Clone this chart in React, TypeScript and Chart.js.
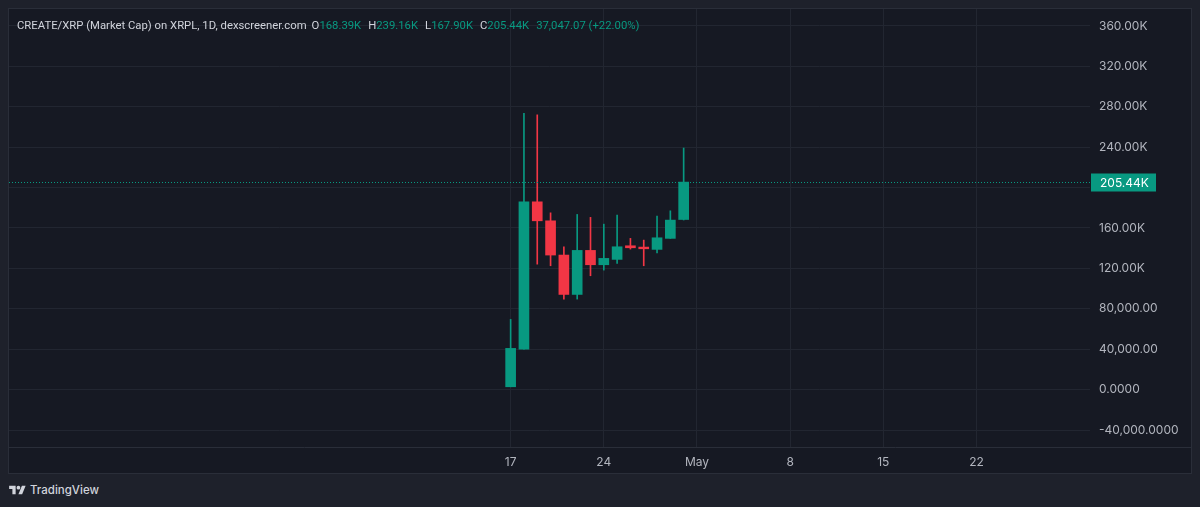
import React, { useEffect, useRef } from "react";
import { Chart, registerables } from "chart.js";

Chart.register(...registerables);

// ---- data (day numbers counted from Apr 0; May 1 = 31) ----
const candleDays = [17, 18, 19, 20, 21, 22, 23, 24, 25, 26, 27, 28, 29, 30];
const opens = [2800, 40000, 185900, 167100, 133200, 94200, 137800, 123600, 128900, 142400, 141100, 138800, 149700, 168390];
const highs = [69500, 273400, 272000, 175000, 141400, 173400, 170500, 163800, 172800, 149700, 148000, 171800, 177000, 239160];
const lows = [2800, 40000, 124200, 122600, 89600, 89600, 112700, 118300, 124900, 139100, 122600, 135400, 149700, 167900];
const closes = [40800, 185900, 167100, 133200, 94200, 137800, 123600, 129900, 141400, 140400, 139400, 150300, 167800, 205440];

const xTickDays = [17, 24, 31, 38, 45, 52];
const xTickLabels = ["17", "24", "May", "8", "15", "22"];

const yTickValues = [-40000, 0, 40000, 80000, 120000, 160000, 200000, 240000, 280000, 320000, 360000];
const yTickLabels = ["-40,000.0000", "0.0000", "40,000.00", "80,000.00", "120.00K", "160.00K", "200.00K", "240.00K", "280.00K", "320.00K", "360.00K"];

const lastPriceLabel = "205.44K";
const legendTitle = "CREATE/XRP (Market Cap) on XRPL, 1D, dexscreener.com";
const legendItems = [
  ["O", "168.39K"],
  ["H", "239.16K"],
  ["L", "167.90K"],
  ["C", "205.44K"],
];
const legendChange = "37,047.07 (+22.00%)";

const UP = "#089981";
const DOWN = "#f23645";
const FONT = "Inter, 'Noto Sans', sans-serif";
const LEGEND_FONT = "Roboto, 'Noto Sans', sans-serif";

export default function App() {
  const canvasRef = useRef<HTMLCanvasElement | null>(null);

  useEffect(() => {
    const canvas = canvasRef.current;
    if (!canvas) return;
    const colors = opens.map((o, i) => (closes[i] >= o ? UP : DOWN));
    const lastClose = closes[closes.length - 1];

    const overlay = {
      id: "overlay",
      afterDraw(chart: any) {
        const ctx = chart.ctx as CanvasRenderingContext2D;
        const area = chart.chartArea;
        const yScale = chart.scales.y;
        ctx.save();
        // time axis separator
        ctx.strokeStyle = "#2a2e39";
        ctx.lineWidth = 1;
        ctx.beginPath();
        ctx.moveTo(0, Math.round(area.bottom) + 0.5);
        ctx.lineTo(chart.width, Math.round(area.bottom) + 0.5);
        ctx.stroke();
        // last price dotted line
        const py = Math.round(yScale.getPixelForValue(lastClose)) + 0.5;
        ctx.strokeStyle = UP;
        ctx.setLineDash([1, 2]);
        ctx.beginPath();
        ctx.moveTo(area.left, py);
        ctx.lineTo(area.right, py);
        ctx.stroke();
        ctx.setLineDash([]);
        // last price label
        ctx.fillStyle = UP;
        ctx.fillRect(area.right + 1, py - 9, 65, 18);
        ctx.fillStyle = "#ffffff";
        ctx.font = `12px ${FONT}`;
        ctx.textBaseline = "middle";
        ctx.textAlign = "left";
        ctx.fillText(lastPriceLabel, area.right + 10, py + 0.5);
        ctx.restore();
      },
    };

    const chart = new Chart(canvas, {
      type: "bar",
      data: {
        datasets: [
          {
            label: "body",
            data: candleDays.map((d, i) => ({ x: d, y: [opens[i], closes[i]] })) as any,
            backgroundColor: colors,
            barThickness: 10,
            grouped: false,
            borderWidth: 0,
            borderSkipped: false,
            minBarLength: 1,
          } as any,
          {
            label: "wick",
            data: candleDays.map((d, i) => ({ x: d, y: [lows[i], highs[i]] })) as any,
            backgroundColor: colors,
            barThickness: 1,
            grouped: false,
            borderWidth: 0,
            borderSkipped: false,
          } as any,
        ],
      },
      options: {
        animation: false,
        responsive: false,
        maintainAspectRatio: false,
        layout: { padding: 0 },
        plugins: {
          legend: { display: false },
          tooltip: { enabled: false },
          title: { display: false },
        },
        scales: {
          x: {
            type: "linear",
            min: -20.69,
            max: 60.53,
            offset: false,
            grid: { color: "#222631", offset: false, drawTicks: false },
            border: { display: false },
            afterFit(scale: any) {
              scale.height = 26;
              scale.paddingLeft = 0;
              scale.paddingRight = 0;
              scale.paddingTop = 0;
              scale.paddingBottom = 0;
            },
            afterBuildTicks(scale: any) {
              scale.ticks = xTickDays.map((v) => ({ value: v }));
            },
            ticks: {
              color: "#b2b5be",
              font: { family: FONT, size: 12 },
              padding: 8,
              maxRotation: 0,
              autoSkip: false,
              callback: (v: any) => {
                const i = xTickDays.indexOf(Number(v));
                return i >= 0 ? xTickLabels[i] : "";
              },
            },
          } as any,
          y: {
            type: "linear",
            position: "right",
            min: -56826,
            max: 376794,
            grid: { color: "#222631", drawTicks: false },
            border: { display: false },
            afterFit(scale: any) {
              scale.width = 101;
              scale.paddingLeft = 0;
              scale.paddingRight = 0;
              scale.paddingTop = 0;
              scale.paddingBottom = 0;
            },
            afterBuildTicks(scale: any) {
              scale.ticks = yTickValues.map((v) => ({ value: v }));
            },
            ticks: {
              color: "#b2b5be",
              font: { family: FONT, size: 12 },
              padding: 9,
              autoSkip: false,
              callback: (v: any) => {
                const i = yTickValues.indexOf(Number(v));
                return i >= 0 ? yTickLabels[i] : "";
              },
            },
          } as any,
        },
      },
      plugins: [overlay],
    });
    return () => chart.destroy();
  }, []);

  return (
    <div style={{ position: "fixed", inset: 0, background: "#1e212b", fontFamily: FONT }}>
      <div
        style={{
          position: "absolute",
          left: 8,
          top: 8,
          width: 1182,
          height: 464,
          border: "1px solid #2a2e39",
          background: "#161923",
        }}
      >
        <canvas ref={canvasRef} width={1182} height={464} style={{ display: "block", width: 1182, height: 464 }} />
        <div
          style={{
            position: "absolute",
            left: 8,
            top: 9,
            fontSize: 11.3,
            fontFamily: LEGEND_FONT,
            lineHeight: "16px",
            whiteSpace: "nowrap",
            color: "#d1d4dc",
          }}
        >
          <span>{legendTitle}</span>
          {legendItems.map(([k, v], i) => (
            <span key={k} style={{ marginLeft: i === 0 ? 5 : 7 }}>
              {k}
              <span style={{ color: UP }}>{v}</span>
            </span>
          ))}
          <span style={{ marginLeft: 7, color: UP }}>{legendChange}</span>
        </div>
      </div>
      <div style={{ position: "absolute", left: 9, top: 483, display: "flex", alignItems: "center", gap: 4 }}>
        <svg width="17" height="13" viewBox="0 0 36 28">
          <path d="M14 22H7V11H0V4h14v18z M28 22h-8l7.5-18h8z" fill="#d1d4dc" />
          <circle cx="20" cy="8" r="4" fill="#d1d4dc" />
        </svg>
        <span style={{ color: "#d1d4dc", fontSize: 11.5, fontWeight: 500 }}>TradingView</span>
      </div>
    </div>
  );
}
